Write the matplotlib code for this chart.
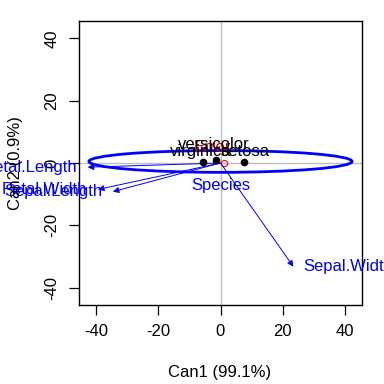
import matplotlib
matplotlib.use("Agg")
import matplotlib.pyplot as plt
from matplotlib.patches import Ellipse

plt.rcParams['font.family'] = ['Liberation Sans', 'DejaVu Sans']
plt.rcParams['axes.unicode_minus'] = False

# Group means on canonical dimensions
groups = ["setosa", "versicolor", "virginica"]
can1_means = [7.7, -1.6, -5.8]
can2_means = [0.2, 0.9, 0.2]
label_x = [8.0, -2.3, -6.4]
label_y = [3.7, 5.9, 3.7]

# Variable structure vectors (scaled)
variables = ["Sepal.Length", "Sepal.Width", "Petal.Length", "Petal.Width"]
vec_can1 = [-34.7, 23.5, -42.8, -39.5]
vec_can2 = [-9.2, -33.3, -1.35, -8.5]

# H (Species) ellipse and E (Error) ellipse
h_center = (0.0, 0.5)
h_width = 84.8
h_height = 7.0
e_center = (1.3, -0.2)
e_size = 2.0

FS = 12

fig = plt.figure(figsize=(3.84, 3.84), dpi=100)
ax = fig.add_axes([79/384, 1-305/384, (362-79)/384, (305-21)/384])
ax.set_xlim(-45.6, 45.6)
ax.set_ylim(-45.6, 45.6)

ax.axhline(0, color='#BEBEBE', lw=1, zorder=1)
ax.axvline(0, color='#BEBEBE', lw=1, zorder=1)

ax.add_patch(Ellipse(h_center, h_width, h_height, fill=False, ec='#0000FF', lw=2.0, zorder=3))
ax.add_patch(Ellipse(e_center, e_size, e_size, fill=False, ec='#FF0000', lw=0.8, zorder=3))

ax.text(0, -7.3, "Species", color='#0000FF', ha='center', va='center', fontsize=FS)
ax.text(-2.6, 5.0, "Error", color='#CC0000', ha='center', va='center', fontsize=FS)

ax.plot(can1_means, can2_means, 'o', color='black', ms=4.5, zorder=5)
for g, x, y in zip(groups, label_x, label_y):
    ax.text(x, y, g, ha='center', va='center', fontsize=FS, color='black', zorder=6)

for v, x, y in zip(variables, vec_can1, vec_can2):
    ax.annotate("", xy=(x, y), xytext=(0, 0),
                arrowprops=dict(arrowstyle='-|>', color='#0000FF', lw=0.7,
                                mutation_scale=9, shrinkA=0, shrinkB=0), zorder=4)
    if x < 0:
        ax.text(x - 3.4, y, v, color='#0000FF', ha='right', va='center', fontsize=FS, clip_on=False)
    else:
        ax.text(x + 3.2, y, v, color='#0000FF', ha='left', va='center', fontsize=FS, clip_on=False)

ax.set_xticks([-40, -20, 0, 20, 40])
ax.set_yticks([-40, -20, 0, 20, 40])
ax.tick_params(direction='out', length=7, width=0.9, labelsize=FS, pad=7, color='black')
for lab in ax.get_yticklabels():
    lab.set_rotation(90)
    lab.set_va('center')
for s in ax.spines.values():
    s.set_linewidth(1.0)

fig.text(220/384, 1-372/384, "Can1 (99.1%)", ha='center', va='center', fontsize=FS)
fig.text(16/384, 1-163/384, "Can2 (0.9%)", ha='center', va='center', rotation=90, fontsize=FS)

fig.savefig("out.png", dpi=100)
